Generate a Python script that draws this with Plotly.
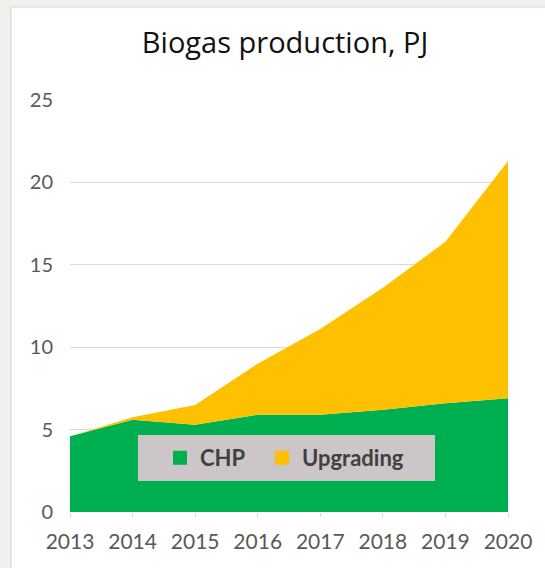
import plotly.graph_objs as go

years = [2013, 2014, 2015, 2016, 2017, 2018, 2019, 2020]
chp = [4.6, 5.6, 5.3, 5.9, 5.9, 6.2, 6.6, 6.9]
upgrading = [0.0, 0.15, 1.2, 3.1, 5.2, 7.4, 9.8, 14.4]
y_ticks = [0, 5, 10, 15, 20, 25]

GREEN = "#00b050"
YELLOW = "#ffc000"
FONT = "Lato"

fig = go.Figure()

# stacked areas
for name, vals, col in [("CHP", chp, GREEN), ("Upgrading", upgrading, YELLOW)]:
    fig.add_trace(go.Scatter(x=years, y=vals, name=name, stackgroup="one",
                             mode="none", fillcolor=col, showlegend=False))

# square legend markers like the excel legend, one legend each so they can be placed
for name, col, lg in [("CHP", GREEN, "legend"), ("Upgrading", YELLOW, "legend2")]:
    fig.add_trace(go.Scatter(x=[None], y=[None], name=name, mode="markers", legend=lg,
                             marker=dict(symbol="square", size=14, color=col)))

# grey page strip on the left / top, white chart panel
fig.add_shape(type="rect", xref="paper", yref="paper",
              x0=(11 - 70) / 438, x1=2, y0=-1, y1=(512 - 7) / 412,
              fillcolor="white", line=dict(color="#d6d6d6", width=1), layer="below")
# legend box
fig.add_shape(type="rect", xref="paper", yref="paper",
              x0=(138 - 70) / 438, x1=(435 - 70) / 438,
              y0=(512 - 481) / 412, y1=(512 - 435) / 412,
              fillcolor="#cdc6c9", line=dict(width=0), layer="above")

leg_style = dict(orientation="h", xanchor="left", y=(512 - 458) / 412, yanchor="middle",
                 bgcolor="rgba(0,0,0,0)", borderwidth=0, itemwidth=30,
                 font=dict(family=FONT, size=22, color="#404040", weight="bold"))

fig.update_layout(
    width=545, height=568,
    margin=dict(l=70, r=37, t=100, b=56),
    paper_bgcolor="#f1f0ec",
    plot_bgcolor="rgba(0,0,0,0)",
    font=dict(family=FONT, color="#595959"),
    title=dict(text="Biogas production, PJ", x=0.523, xanchor="center",
               y=1 - 43 / 568, yanchor="middle",
               font=dict(family="Open Sans", size=29, color="#111111")),
    xaxis=dict(range=[2013, 2020], tickvals=years, showgrid=False, zeroline=False,
               ticks="outside", ticklen=4, tickcolor="#d9d9d9",
               tickfont=dict(size=21, color="#595959"), ticklabelstandoff=7),
    yaxis=dict(range=[0, 25], tickvals=y_ticks, showgrid=True, gridcolor="#d9d9d9",
               gridwidth=1, zeroline=False, tickfont=dict(size=20, color="#595959"),
               ticklabelstandoff=16),
    legend=dict(x=(160 - 70) / 438, **leg_style),
    legend2=dict(x=(262 - 70) / 438, **leg_style),
)

fig.write_html("out.html", config={"displayModeBar": False},
               post_script="document.body.style.margin='0';")
